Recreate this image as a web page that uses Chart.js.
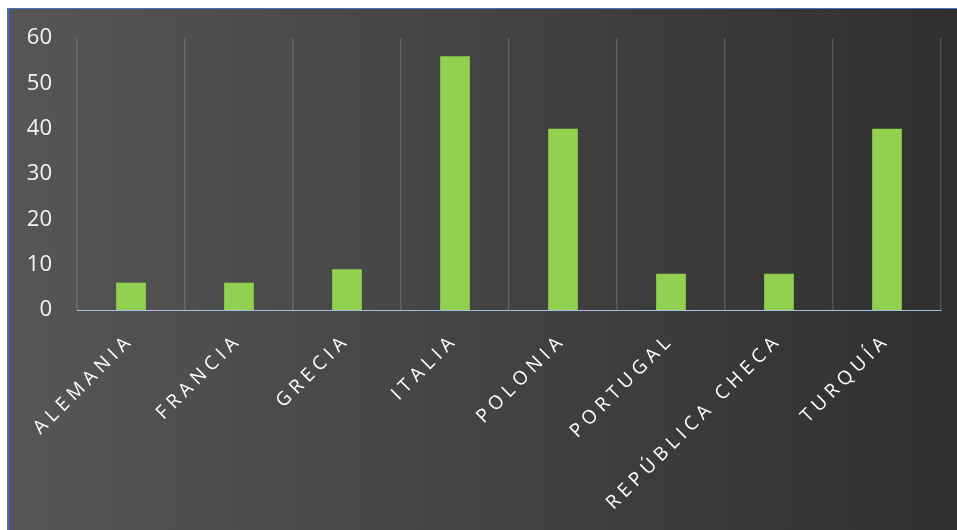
<!DOCTYPE html>
<html>
<head>
<meta charset="utf-8">
<script src="https://cdn.jsdelivr.net/npm/chart.js@4/dist/chart.umd.min.js"></script>
<style>
    html, body { margin: 0; padding: 0; background: #ffffff; }
    #wrap { position: relative; width: 957px; height: 530px; overflow: hidden; }
    #box {
        position: absolute; left: 7px; top: 8px; width: 960px; height: 540px;
        border-left: 2px solid #4472c4; border-top: 1px solid #4472c4;
        background: linear-gradient(to right, #565656, #2f2f2f);
    }
    #chart { position: absolute; left: 0; top: 0; }
</style>
</head>
<body>
<div id="wrap">
    <div id="box"></div>
    <canvas id="chart" width="957" height="530"></canvas>
</div>
<script>
// Chart data
const categories = ['ALEMANIA', 'FRANCIA', 'GRECIA', 'ITALIA', 'POLONIA', 'PORTUGAL', 'REPÚBLICA CHECA', 'TURQUÍA'];
const values = [6, 6, 9, 56, 40, 8, 8, 40];
const yMin = 0;
const yMax = 60;
const yStep = 10;

// letter spacing on the category labels only
const spacedLabels = {
    id: 'spacedLabels',
    beforeDraw(chart) {
        const xs = chart.scales.x;
        if (!xs._spaced) {
            const orig = xs.drawLabels;
            xs.drawLabels = function (area) {
                const ctx = this.ctx;
                ctx.save();
                ctx.letterSpacing = '5px';
                orig.call(this, area);
                ctx.restore();
            };
            xs._spaced = true;
        }
    }
};

const ctx = document.getElementById('chart').getContext('2d');
new Chart(ctx, {
    type: 'bar',
    data: {
        labels: categories,
        datasets: [{
            data: values,
            backgroundColor: '#92d050',
            borderWidth: 0,
            barPercentage: 0.275,
            categoryPercentage: 1
        }]
    },
    options: {
        responsive: false,
        animation: false,
        events: [],
        layout: { padding: { top: 37, left: 0, right: 16, bottom: 0 } },
        plugins: { legend: { display: false }, tooltip: { enabled: false } },
        scales: {
            x: {
                offset: true,
                grid: {
                    display: true,
                    offset: true,
                    color: 'rgba(255,255,255,0.16)',
                    lineWidth: 1.5,
                    drawTicks: false
                },
                border: { display: true, color: '#a9bde3', width: 1 },
                ticks: {
                    color: '#ffffff',
                    font: { family: 'Open Sans', size: 19 },
                    minRotation: 45,
                    maxRotation: 45,
                    autoSkip: false,
                    padding: 19
                },
                afterFit(scale) { scale.height = 220; }
            },
            y: {
                min: yMin,
                max: yMax,
                grid: { display: false, drawTicks: false },
                border: { display: false },
                ticks: {
                    stepSize: yStep,
                    color: '#f5f5f5',
                    font: { family: 'Open Sans', size: 22 },
                    padding: 25
                },
                afterFit(scale) { scale.width = 77; }
            }
        }
    },
    plugins: [spacedLabels]
});
</script>
</body>
</html>
